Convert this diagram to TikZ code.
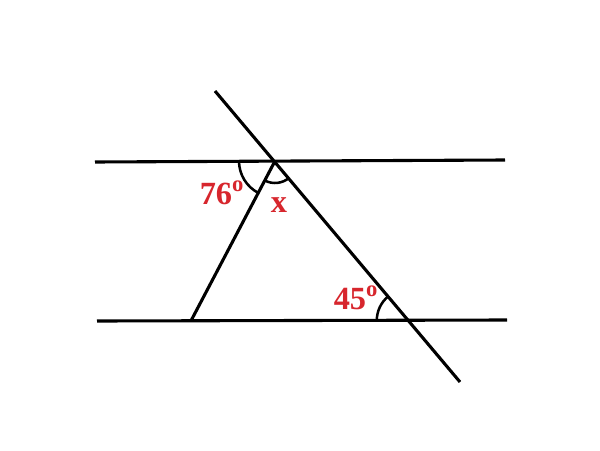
\documentclass[tikz,border=0pt]{standalone}
\usepackage{fontspec}
\setmainfont{Liberation Serif}
\usepackage{tikz}
\usetikzlibrary{angles}
\definecolor{rojo}{RGB}{215, 38, 45}
\tikzset{
    recta/.style={draw, black, line width=2.2pt},
    arco/.style={draw, black, line width=1.8pt},
    etiq/.style={text=rojo, font=\fontsize{23}{23}\selectfont\bfseries, inner sep=0pt},
}
\begin{document}
\begin{tikzpicture}[x=0.025cm, y=0.025cm]
        \useasboundingbox (0,0) rectangle (600,450);
        % extremos de las rectas
        \coordinate (TL) at (95,288);
        \coordinate (TR) at (505,290);
        \coordinate (BL) at (97,129);
        \coordinate (BR) at (507,130);
        \coordinate (T1) at (215,359);
        \coordinate (T2) at (460,68);
        % vertices del triangulo
        \coordinate (P) at (275,289);
        \coordinate (Q) at (408,129.5);
        \coordinate (R) at (191,129.2);

        \draw[recta] (TL) -- (TR);
        \draw[recta] (BL) -- (BR);
        \draw[recta] (T1) -- (T2);
        \draw[recta] (R) -- (P);

        \pic[arco, angle radius=0.9cm] {angle = TL--P--R};
        \pic[arco, angle radius=0.55cm] {angle = R--P--T2};
        \pic[arco, angle radius=0.78cm] {angle = T1--Q--BL};

        \node[etiq] (a76) at (222,257) {76$^{\mathbf{o}}$};
        \node[etiq] (ax) at (279,245) {x};
        \node[etiq] (a45) at (356,152) {45$^{\mathbf{o}}$};
    \end{tikzpicture}
\end{document}
